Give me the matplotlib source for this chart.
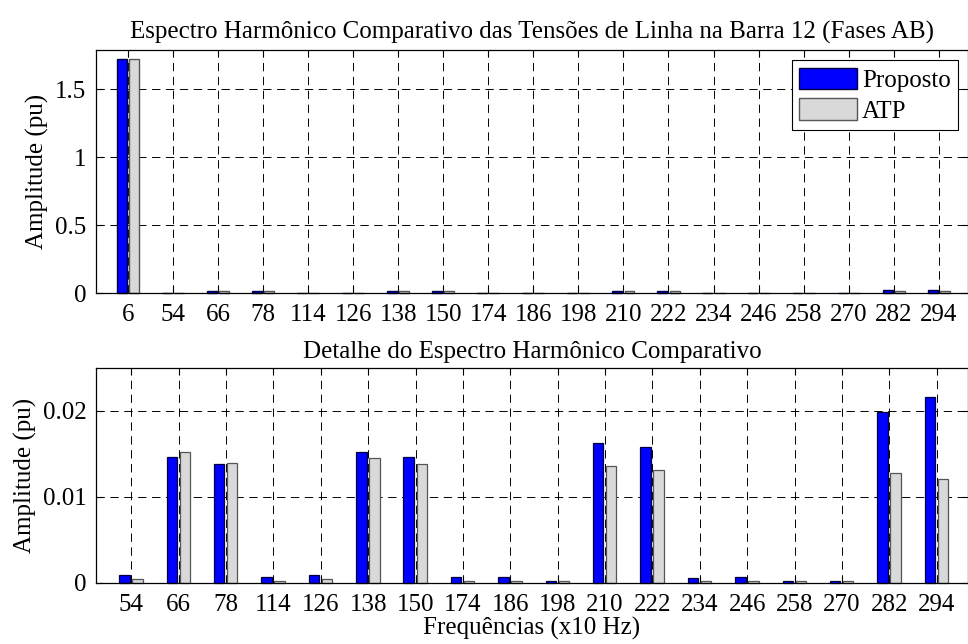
import matplotlib
matplotlib.use('Agg')
import matplotlib.pyplot as plt
import numpy as np

# Harmonic orders (x10 Hz) and amplitudes (pu)
harm_full = ['6', '54', '66', '78', '114', '126', '138', '150', '174', '186',
             '198', '210', '222', '234', '246', '258', '270', '282', '294']
harm_detail = harm_full[1:]

fund_proposto = 1.724
fund_atp = 1.724

proposto = [0.00086, 0.01457, 0.01383, 0.00066, 0.00086, 0.01520, 0.01457,
            0.00066, 0.00066, 0.00020, 0.01625, 0.01574, 0.00050, 0.00066,
            0.00020, 0.00020, 0.01992, 0.02160]
atp = [0.00035, 0.01520, 0.01398, 0.00020, 0.00035, 0.01453, 0.01383,
       0.00020, 0.00020, 0.00020, 0.01363, 0.01313, 0.00020, 0.00020,
       0.00020, 0.00020, 0.01277, 0.01207]

plt.rcParams['font.family'] = ['Liberation Serif', 'DejaVu Serif']
plt.rcParams['font.size'] = 18
plt.rcParams['lines.scale_dashes'] = False

BLUE = '#0000ff'
GRAY = '#d9d9d9'
W = 0.22
FS = 18


def style_axes(ax):
    ax.set_axisbelow(True)
    ax.grid(True, color='black', linestyle=(0, (6, 4)), linewidth=0.7)
    ax.tick_params(direction='in', top=True, right=True, length=5, width=0.8,
                   labelsize=FS)
    ax.tick_params(axis='x', pad=8)
    ax.tick_params(axis='y', pad=7)
    for s in ax.spines.values():
        s.set_linewidth(0.9)
        s.set_zorder(5)


fig = plt.figure(figsize=(9.68, 6.44), dpi=100)

# top: full spectrum
ax1 = fig.add_axes([96 / 968, 1 - 293 / 644, 872 / 968, 243 / 644])
x1 = np.arange(1, len(harm_full) + 1)
top_p = [fund_proposto] + proposto
top_a = [fund_atp] + atp
ax1.bar(x1 - 0.135, top_p, W, color=BLUE, edgecolor='#000040', linewidth=1.0,
        label='Proposto', clip_on=False)
ax1.bar(x1 + 0.135, top_a, W, color=GRAY, edgecolor='#555555', linewidth=1.0,
        label='ATP', clip_on=False)
ax1.set_xlim(0.29, 19.65)
ax1.set_ylim(0, 1.79)
ax1.set_xticks(x1)
ax1.set_xticklabels(harm_full)
ax1.set_yticks([0, 0.5, 1, 1.5])
ax1.set_yticklabels(['0', '0.5', '1', '1.5'])
ax1.set_ylabel('Amplitude (pu)', fontsize=FS)
ax1.set_title('Espectro Harmônico Comparativo das Tensões de Linha na Barra 12 (Fases AB)',
              fontsize=FS, pad=8)
style_axes(ax1)
leg = ax1.legend(loc='upper right', fontsize=FS, frameon=True, fancybox=False,
                 edgecolor='black', framealpha=1, handlelength=2.3, handleheight=0.95,
                 handletextpad=0.2, borderpad=0.3, labelspacing=0.25,
                 borderaxespad=0.4)
leg.get_frame().set_linewidth(0.8)
leg.set_zorder(10)

# bottom: detail without fundamental
ax2 = fig.add_axes([96 / 968, 1 - 582.5 / 644, 872 / 968, 214.5 / 644])
x2 = np.arange(1, len(harm_detail) + 1)
ax2.bar(x2 - 0.145, proposto, W, color=BLUE, edgecolor='#000040', linewidth=0.9,
        clip_on=False)
ax2.bar(x2 + 0.13, atp, W, color=GRAY, edgecolor='#555555', linewidth=0.9,
        clip_on=False)
ax2.set_xlim(0.255, 18.66)
ax2.set_ylim(0, 0.025)
ax2.set_xticks(x2)
ax2.set_xticklabels(harm_detail)
ax2.set_yticks([0, 0.01, 0.02])
ax2.set_yticklabels(['0', '0.01', '0.02'])
ax2.set_ylabel('Amplitude (pu)', fontsize=FS)
ax2.set_xlabel('Frequências (x10 Hz)', fontsize=FS, labelpad=1)
ax2.set_title('Detalhe do Espectro Harmônico Comparativo', fontsize=FS, pad=7)
style_axes(ax2)

fig.savefig('out.png', dpi=100)
